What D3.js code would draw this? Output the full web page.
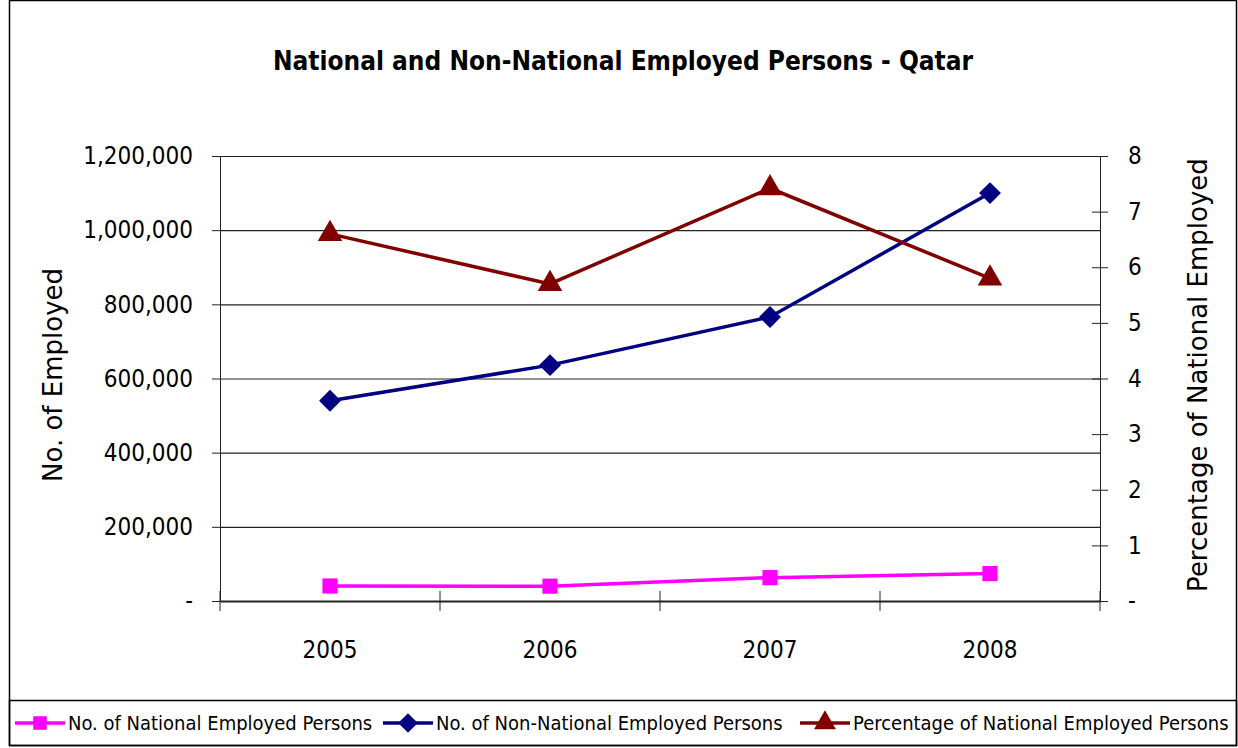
<!DOCTYPE html>
<html>
<head>
<meta charset="utf-8">
<script src="https://cdn.jsdelivr.net/npm/d3@7"></script>
<style>
  body { margin: 0; background: #fff; }
  svg { display: block; }
</style>
</head>
<body>
<div id="chart"></div>
<script>
var years = ["2005", "2006", "2007", "2008"];
var national = [40500, 40000, 63000, 74000];
var nonNational = [540000, 636000, 766000, 1100000];
var pctNational = [6.6, 5.7, 7.42, 5.8];
var leftTicks = [0, 200000, 400000, 600000, 800000, 1000000, 1200000];
var rightTicks = [0, 1, 2, 3, 4, 5, 6, 7, 8];

var W = 1238, H = 748;
var margin = { top: 156, left: 220, right: 138, bottom: 147 };
var width = W - margin.left - margin.right,
    height = H - margin.top - margin.bottom;
var tickFont = "'Liberation Sans Narrow', 'DejaVu Sans Condensed', sans-serif";

var svg = d3.select("#chart").append("svg")
  .attr("width", W).attr("height", H);

// outer frame and legend box
svg.append("rect").attr("x", 9.5).attr("y", 0.5).attr("width", 1227).attr("height", 745)
  .attr("fill", "none").attr("stroke", "#000").attr("stroke-width", 1.5);
svg.append("rect").attr("x", 9.5).attr("y", 700.5).attr("width", 1227).attr("height", 45)
  .attr("fill", "none").attr("stroke", "#000").attr("stroke-width", 1.5);

svg.append("text")
  .attr("x", 623).attr("y", 70)
  .attr("text-anchor", "middle")
  .style("font-family", tickFont)
  .style("font-weight", "bold")
  .style("font-size", "26px")
  .text("National and Non-National Employed Persons - Qatar");

var g = svg.append("g")
  .attr("transform", "translate(" + margin.left + "," + margin.top + ")");

var x = d3.scaleBand().domain(years).range([0, width]);
var y = d3.scaleLinear().domain([0, 1200000]).range([height, 0]);
var y2 = d3.scaleLinear().domain([0, 8]).range([height, 0]);

// gridlines
g.selectAll(".grid").data(leftTicks.slice(1)).enter().append("line")
  .attr("x1", 0).attr("x2", width)
  .attr("y1", function(d) { return y(d) + 0.5; })
  .attr("y2", function(d) { return y(d) + 0.5; })
  .attr("stroke", "#222").attr("stroke-width", 1.2);

// left axis
var yAxis = d3.axisLeft(y).tickValues(leftTicks).tickSizeInner(8).tickSizeOuter(0).tickPadding(19)
  .tickFormat(function(d) { return d === 0 ? "-" : d3.format(",")(d); });
var ya = g.append("g").attr("class", "axis y-axis").call(yAxis);
ya.selectAll("text").style("font-family", tickFont).style("font-size", "24px").attr("fill", "#000");
ya.selectAll("line, path").attr("stroke", "#222");

// right axis
var y2Axis = d3.axisRight(y2).tickValues(rightTicks).tickSizeInner(8).tickSizeOuter(0).tickPadding(20)
  .tickFormat(function(d) { return d === 0 ? "-" : d; });
var ya2 = g.append("g").attr("class", "axis y2-axis")
  .attr("transform", "translate(" + width + ",0)").call(y2Axis);
ya2.selectAll("text").style("font-family", tickFont).style("font-size", "24px").attr("fill", "#000");
ya2.selectAll("line, path").attr("stroke", "#222");
ya2.selectAll(".tick line").attr("x1", -8);

// x axis
var xAxis = d3.axisBottom(x).tickSize(0).tickPadding(40);
var xa = g.append("g").attr("class", "axis x-axis")
  .attr("transform", "translate(0," + height + ")").call(xAxis);
xa.select("path").attr("stroke", "#222").attr("stroke-width", 2);
xa.selectAll("text").style("font-family", tickFont).style("font-size", "24px").attr("fill", "#000");
var bounds = years.map(function(d) { return x(d); }).concat([width]);
xa.selectAll(".xtick").data(bounds).enter().append("line")
  .attr("x1", function(d) { return d; }).attr("x2", function(d) { return d; })
  .attr("y1", -10).attr("y2", 10).attr("stroke", "#222");

// axis titles
svg.append("text")
  .attr("transform", "translate(62,375) rotate(-90)")
  .attr("text-anchor", "middle")
  .style("font-family", "'DejaVu Sans', sans-serif").style("font-size", "26px")
  .text("No. of Employed");
svg.append("text")
  .attr("transform", "translate(1207,375) rotate(-90)")
  .attr("text-anchor", "middle")
  .style("font-family", "'DejaVu Sans', sans-serif").style("font-size", "26px")
  .text("Percentage of National Employed");

var cx = function(d, i) { return x(years[i]) + x.bandwidth() / 2; };

var series = [
  { name: "No. of National Employed Persons", values: national, scale: y, color: "#ff00ff", symbol: d3.symbolSquare, size: 230, rot: 0 },
  { name: "No. of Non-National Employed Persons", values: nonNational, scale: y, color: "#000080", symbol: d3.symbolSquare, size: 240, rot: 45 },
  { name: "Percentage of National Employed Persons", values: pctNational, scale: y2, color: "#800000", symbol: d3.symbolTriangle, size: 260, rot: 0 }
];

series.forEach(function(s) {
  var line = d3.line()
    .x(function(d, i) { return cx(d, i); })
    .y(function(d) { return s.scale(d); });
  g.append("path").datum(s.values)
    .attr("d", line).attr("fill", "none")
    .attr("stroke", s.color).attr("stroke-width", 3.5);
  g.selectAll(null).data(s.values).enter().append("path")
    .attr("d", d3.symbol().type(s.symbol).size(s.size))
    .attr("transform", function(d, i) { return "translate(" + cx(d, i) + "," + s.scale(d) + ") rotate(" + s.rot + ")"; })
    .attr("fill", s.color);
});

// legend
var legendX = [15, 383, 800];
var leg = svg.append("g").attr("class", "legend");
series.forEach(function(s, i) {
  var lg = leg.append("g").attr("transform", "translate(" + legendX[i] + ",723)");
  lg.append("line").attr("x1", 0).attr("x2", 50).attr("stroke", s.color).attr("stroke-width", 3.5);
  lg.append("path").attr("d", d3.symbol().type(s.symbol).size(s.size * 0.8))
    .attr("transform", "translate(25,0) rotate(" + s.rot + ")").attr("fill", s.color);
  lg.append("text").attr("x", 53).attr("y", 7)
    .style("font-family", tickFont).style("font-size", "20px")
    .text(s.name);
});
</script>
</body>
</html>
